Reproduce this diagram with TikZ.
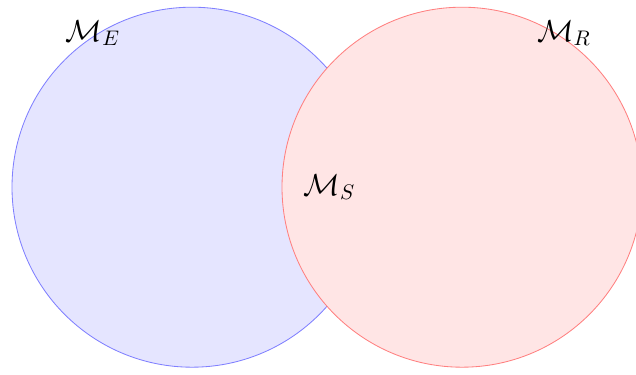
\documentclass[tikz,border=0pt]{standalone}
\usepackage{amsmath}
\usetikzlibrary{positioning,calc}

\begin{document}
\begin{tikzpicture}[
    font=\Large,
    setbox/.style={circle, minimum size=6cm, inner sep=0pt},
    setE/.style={setbox, draw=blue!50, fill=blue!10},
    setR/.style={setbox, draw=red!50, fill=red!10}
]
    \clip (-3.2,-3.12) rectangle (7.4,3.12);

    \node[setE] (E) at (0,0) {};
    \node[setR] (R) at (4.5,0) {};

    \node (labE) at (-1.65,2.57) {$\mathcal{M}_E$};
    \node (labR) at (6.2,2.57) {$\mathcal{M}_R$};
    \node (labS) at (2.29,0) {$\mathcal{M}_S$};
\end{tikzpicture}
\end{document}
